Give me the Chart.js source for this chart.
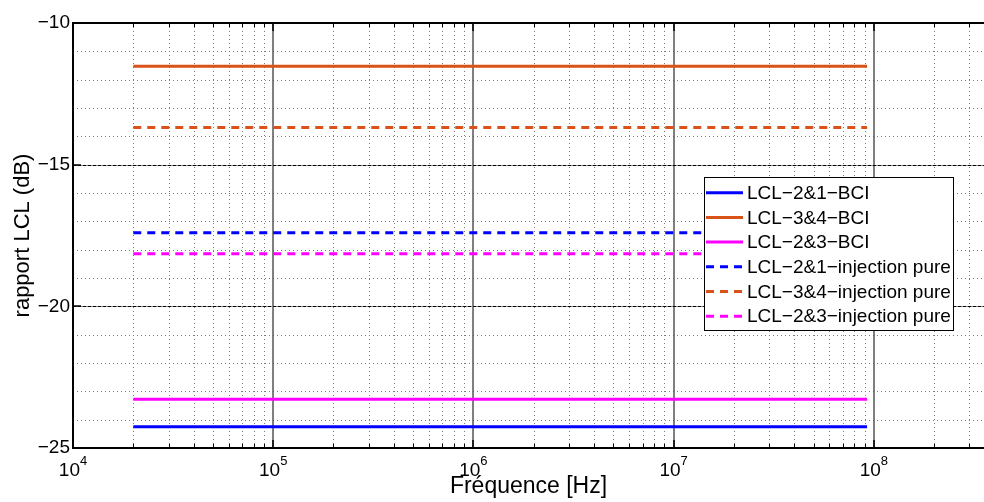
<!DOCTYPE html>
<html>
<head>
<meta charset="utf-8">
<title>rapport LCL</title>
<script src="https://cdn.jsdelivr.net/npm/chart.js@4.4.1/dist/chart.umd.min.js"></script>
<style>
    html, body { margin: 0; padding: 0; background: #fff; }
    #wrap { width: 984px; height: 502px; position: relative; }
</style>
</head>
<body>
<div id="wrap"><canvas id="lclChart"></canvas></div>
<script>
// Frequency span of each measurement (Hz)
const freqHz = [2e4, 9.25e7];

// LCL ratio (dB), one flat value per curve
const lcl21Bci = [-24.25, -24.25];
const lcl34Bci = [-11.53, -11.53];
const lcl23Bci = [-23.28, -23.28];
const lcl21Inj = [-17.40, -17.40];
const lcl34Inj = [-13.69, -13.69];
const lcl23Inj = [-18.14, -18.14];

const seriesLabels = [
    'LCL\u22122&1\u2212BCI',
    'LCL\u22123&4\u2212BCI',
    'LCL\u22122&3\u2212BCI',
    'LCL\u22122&1\u2212injection pure',
    'LCL\u22123&4\u2212injection pure',
    'LCL\u22122&3\u2212injection pure'
];

// Axis ticks
const xDecades = [1e4, 1e5, 1e6, 1e7, 1e8];
const xExponents = ['4', '5', '6', '7', '8'];
const yMajorTicks = [-25, -20, -15, -10];

const FONT = '"Liberation Sans", Arial, Helvetica, sans-serif';
const BLUE = '#0000ff';
const ORANGE = '#d95319';
const MAGENTA = '#ff00ff';

function toPoints(values) {
    return values.map((v, i) => ({ x: freqHz[i], y: v }));
}

function line(ctx, x1, y1, x2, y2) {
    ctx.beginPath();
    ctx.moveTo(x1, y1);
    ctx.lineTo(x2, y2);
    ctx.stroke();
}

// minor log positions (2..9 x decade) inside the x range
function minorFreqs(xScale) {
    const out = [];
    xDecades.forEach(d => {
        for (let m = 2; m <= 9; m++) {
            if (m * d <= xScale.max) out.push(m * d);
        }
    });
    return out;
}

/**
 * MATLAB-like grid, frame, ticks, exponent labels and boxed legend
 */
const matlabLook = {
    id: 'matlabLook',
    beforeDatasetsDraw(chart) {
        const { ctx, chartArea: a, scales: { x, y } } = chart;
        ctx.save();
        ctx.beginPath();
        ctx.rect(a.left, a.top, a.right - a.left, a.bottom - a.top);
        ctx.clip();

        // minor dotted grid
        ctx.strokeStyle = '#7a7a7a';
        ctx.lineWidth = 1;
        ctx.setLineDash([1, 3]);
        minorFreqs(x).forEach(f => {
            const px = Math.round(x.getPixelForValue(f)) + 0.5;
            line(ctx, px, a.top, px, a.bottom);
        });
        for (let v = y.min; v <= y.max; v++) {
            if (v % 5 === 0) continue;
            const py = Math.round(y.getPixelForValue(v)) + 0.5;
            line(ctx, a.left, py, a.right, py);
        }

        // major grid
        ctx.setLineDash([]);
        ctx.strokeStyle = '#555';
        ctx.lineWidth = 1.5;
        xDecades.forEach(f => {
            const px = Math.round(x.getPixelForValue(f));
            line(ctx, px, a.top, px, a.bottom);
        });
        yMajorTicks.forEach(v => {
            const py = Math.round(y.getPixelForValue(v)) + 0.5;
            ctx.strokeStyle = '#888';
            ctx.lineWidth = 1;
            ctx.setLineDash([]);
            line(ctx, a.left, py, a.right, py);
            ctx.strokeStyle = '#000';
            ctx.setLineDash([3, 2]);
            line(ctx, a.left, py, a.right, py);
        });
        ctx.restore();
    },
    afterDatasetsDraw(chart) {
        const { ctx, chartArea: a, scales: { x, y } } = chart;
        ctx.save();
        ctx.setLineDash([]);
        ctx.strokeStyle = '#000';

        // inward ticks on bottom and top axes
        ctx.lineWidth = 1;
        minorFreqs(x).forEach(f => {
            const px = Math.round(x.getPixelForValue(f)) + 0.5;
            line(ctx, px, a.bottom, px, a.bottom - 4);
            line(ctx, px, a.top, px, a.top + 4);
        });
        ctx.lineWidth = 1.5;
        xDecades.forEach(f => {
            const px = Math.round(x.getPixelForValue(f));
            line(ctx, px, a.bottom, px, a.bottom - 8);
            line(ctx, px, a.top, px, a.top + 8);
        });
        yMajorTicks.forEach(v => {
            const py = Math.round(y.getPixelForValue(v));
            line(ctx, a.left, py, a.left + 8, py);
        });

        // frame: left, bottom, top
        ctx.lineWidth = 2;
        line(ctx, a.left, a.top, a.right, a.top);
        line(ctx, a.left, a.bottom, a.right, a.bottom);
        line(ctx, a.left, a.top - 1, a.left, a.bottom + 1);

        // x tick labels 10^n
        ctx.fillStyle = '#000';
        ctx.textBaseline = 'alphabetic';
        ctx.textAlign = 'left';
        xDecades.forEach((f, i) => {
            const px = x.getPixelForValue(f);
            ctx.font = '19px ' + FONT;
            const wBase = ctx.measureText('10').width;
            ctx.font = '13px ' + FONT;
            const wExp = ctx.measureText(xExponents[i]).width;
            const x0 = px - (wBase + wExp) / 2;
            ctx.font = '19px ' + FONT;
            ctx.fillText('10', x0, a.bottom + 28);
            ctx.font = '13px ' + FONT;
            ctx.fillText(xExponents[i], x0 + wBase, a.bottom + 17);
        });

        // legend box
        const lg = { left: 704, top: 177, right: 953, bottom: 330, rowTop: 192.7, rowStep: 24.7 };
        ctx.fillStyle = '#fff';
        ctx.fillRect(lg.left, lg.top, lg.right - lg.left, lg.bottom - lg.top);
        ctx.lineWidth = 1;
        ctx.strokeStyle = '#000';
        ctx.strokeRect(lg.left + 0.5, lg.top + 0.5, lg.right - lg.left, lg.bottom - lg.top);
        ctx.font = '19px ' + FONT;
        ctx.textBaseline = 'middle';
        chart.data.datasets.forEach((ds, i) => {
            const ry = lg.rowTop + i * lg.rowStep;
            ctx.strokeStyle = ds.borderColor;
            ctx.lineWidth = 3;
            ctx.setLineDash(ds.borderDash || []);
            line(ctx, 706, ry, 743, ry);
            ctx.setLineDash([]);
            ctx.fillStyle = '#000';
            ctx.fillText(ds.label, 747, ry + 1);
        });
        ctx.restore();
    }
};

function makeSet(label, values, color, dashed) {
    return {
        label: label,
        data: toPoints(values),
        borderColor: color,
        backgroundColor: color,
        borderWidth: 3,
        borderDash: dashed ? [8, 6] : [],
        pointRadius: 0,
        fill: false,
        tension: 0
    };
}

const ctx = document.getElementById('lclChart').getContext('2d');
new Chart(ctx, {
    type: 'line',
    data: {
        datasets: [
            makeSet(seriesLabels[0], lcl21Bci, BLUE, false),
            makeSet(seriesLabels[1], lcl34Bci, ORANGE, false),
            makeSet(seriesLabels[2], lcl23Bci, MAGENTA, false),
            makeSet(seriesLabels[3], lcl21Inj, BLUE, true),
            makeSet(seriesLabels[4], lcl34Inj, ORANGE, true),
            makeSet(seriesLabels[5], lcl23Inj, MAGENTA, true)
        ]
    },
    options: {
        responsive: true,
        maintainAspectRatio: false,
        animation: false,
        layout: { padding: { top: 23, right: 0, bottom: 0, left: 0 } },
        scales: {
            x: {
                type: 'logarithmic',
                min: 1e4,
                max: 3.55e8,
                grid: { display: false },
                border: { display: false },
                ticks: { display: false },
                title: {
                    display: true,
                    text: 'Fréquence [Hz]',
                    color: '#000',
                    font: { family: FONT, size: 23 },
                    padding: { top: 0, bottom: 2 }
                },
                afterFit: s => { s.height = 54; }
            },
            y: {
                type: 'linear',
                min: -25,
                max: -10,
                grid: { display: false, drawTicks: false },
                border: { display: false },
                ticks: {
                    stepSize: 1,
                    autoSkip: false,
                    padding: 3,
                    color: '#000',
                    font: { family: FONT, size: 19 },
                    callback: v => (v % 5 === 0 ? '\u2212' + Math.abs(v) : '')
                },
                title: {
                    display: true,
                    text: 'rapport LCL (dB)',
                    color: '#000',
                    font: { family: FONT, size: 22 },
                    padding: { top: 10, bottom: 0 }
                },
                afterFit: s => { s.width = 73; }
            }
        },
        plugins: {
            legend: { display: false },
            tooltip: { enabled: false }
        }
    },
    plugins: [matlabLook]
});
</script>
</body>
</html>
